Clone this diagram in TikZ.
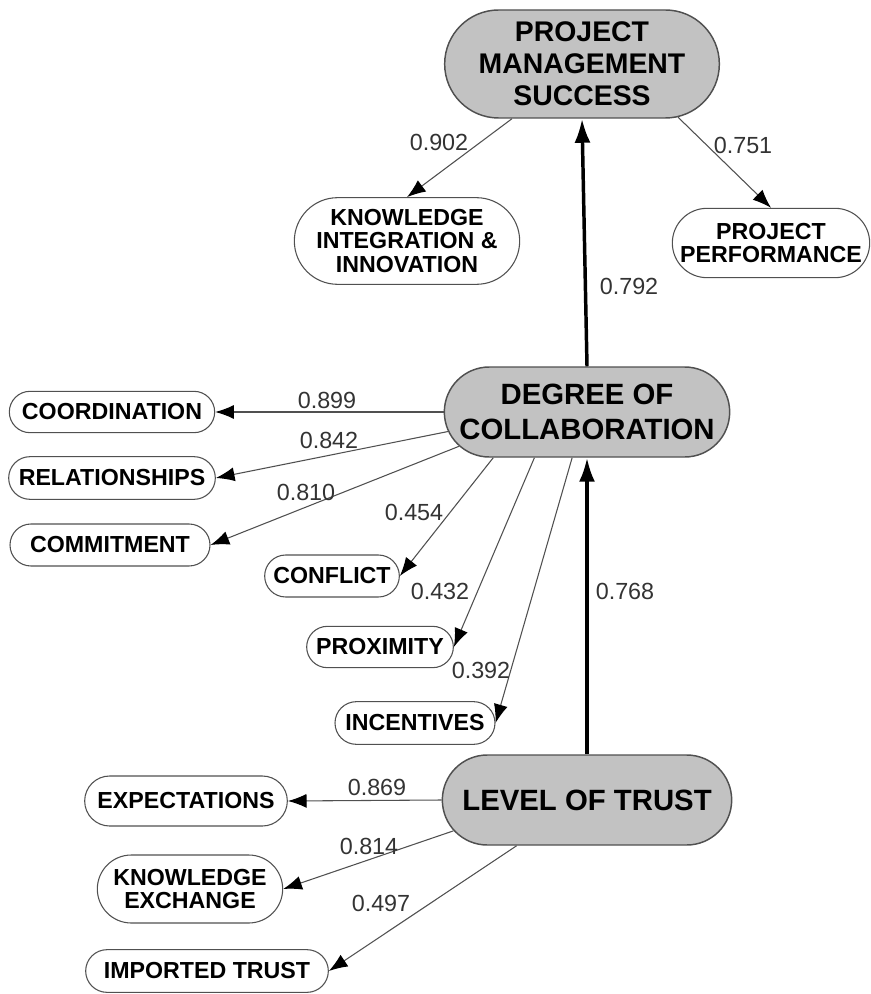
\documentclass[tikz,border=0pt]{standalone}
\usepackage{fontspec}
\setmainfont{Liberation Sans}
\usetikzlibrary{shapes.misc,arrows.meta}
\definecolor{boxgray}{HTML}{C2C2C2}
\definecolor{linegray}{HTML}{505050}
\tikzset{
  bigbox/.style={rounded rectangle, draw=linegray, fill=boxgray, line width=1.1pt, align=center, inner sep=0pt},
  smallbox/.style={rounded rectangle, draw=linegray, line width=0.8pt, align=center, inner sep=0pt,
     font=\bfseries\fontsize{17.4}{17.5}\selectfont},
  lnk/.style={draw=linegray, line width=0.8pt, -{Latex[length=14pt,width=10.5pt,color=black]}},
  mainlnk/.style={draw=black, line width=2.6pt, -{Latex[length=18pt,width=12pt]}},
  num/.style={font=\fontsize{17.5}{17.5}\selectfont, text=black!80, inner sep=0pt}
}
\begin{document}
\begin{tikzpicture}[x=0.75pt,y=-0.75pt]
\path[use as bounding box] (0,0) rectangle (870,994);

% main constructs
\node[bigbox, minimum width=206pt, minimum height=81pt, font=\bfseries\fontsize{21.3}{24}\selectfont] (pms) at (582,64) {PROJECT\\MANAGEMENT\\SUCCESS};
\node[bigbox, minimum width=214pt, minimum height=67.5pt, font=\bfseries\fontsize{22}{26}\selectfont] (doc) at (587,412) {DEGREE OF\\COLLABORATION};
\node[bigbox, minimum width=217pt, minimum height=67.5pt, font=\bfseries\fontsize{22}{26}\selectfont] (lot) at (587,800) {LEVEL OF TRUST};

% indicators
\node[smallbox, minimum width=169pt, minimum height=65pt] (kii) at (407,241) {KNOWLEDGE\\INTEGRATION \&\\INNOVATION};
\node[smallbox, minimum width=148pt, minimum height=52pt] (pp) at (771,243) {PROJECT\\PERFORMANCE};

\node[smallbox, minimum width=154pt, minimum height=31pt] (coord) at (112,412) {COORDINATION};
\node[smallbox, minimum width=155pt, minimum height=32pt] (rel) at (112,478) {RELATIONSHIPS};
\node[smallbox, minimum width=150pt, minimum height=31.5pt] (comm) at (110,545) {COMMITMENT};
\node[smallbox, minimum width=101pt, minimum height=31.5pt] (conf) at (332,576) {CONFLICT};
\node[smallbox, minimum width=110pt, minimum height=31pt] (prox) at (380,647) {PROXIMITY};
\node[smallbox, minimum width=120pt, minimum height=32pt] (inc) at (415,723) {INCENTIVES};

\node[smallbox, minimum width=152pt, minimum height=37.5pt] (exp) at (186,801) {EXPECTATIONS};
\node[smallbox, minimum width=139pt, minimum height=51pt] (ke) at (190,889) {KNOWLEDGE\\EXCHANGE};
\node[smallbox, minimum width=182pt, minimum height=32pt] (it) at (207,971) {IMPORTED TRUST};

% structural paths
\draw[mainlnk] (doc.north) -- (pms.south);
\draw[mainlnk] (lot.north) -- (doc.south);

% loadings
\draw[lnk] (pms.218) -- (kii.north);
\draw[lnk] (pms.331) -- (pp.north);

\draw[lnk] (doc.west) -- (coord.east);
\draw[lnk] (doc.188) -- (rel.east);
\draw[lnk] (doc.195) -- (comm.east);
\draw[lnk] (doc.206) -- (conf.east);
\draw[lnk] (doc.221) -- (prox.east);
\draw[lnk] (doc.252) -- (inc.east);

\draw[lnk] (lot.west) -- (exp.east);
\draw[lnk] (lot.193) -- (ke.east);
\draw[lnk] (lot.213) -- (it.east);

% numbers
\node[num] (n902) at (439,142) {0.902};
\node[num] (n751) at (743,145) {0.751};
\node[num] (n792) at (629,286) {0.792};
\node[num] (n768) at (625,591) {0.768};
\node[num] (n899) at (327,400) {0.899};
\node[num] (n842) at (329,440) {0.842};
\node[num] (n810) at (306,492) {0.810};
\node[num] (n454) at (414,512) {0.454};
\node[num] (n432) at (440,591) {0.432};
\node[num] (n392) at (481,670) {0.392};
\node[num] (n869) at (377,787) {0.869};
\node[num] (n814) at (369,846) {0.814};
\node[num] (n497) at (381,903) {0.497};
\end{tikzpicture}
\end{document}
